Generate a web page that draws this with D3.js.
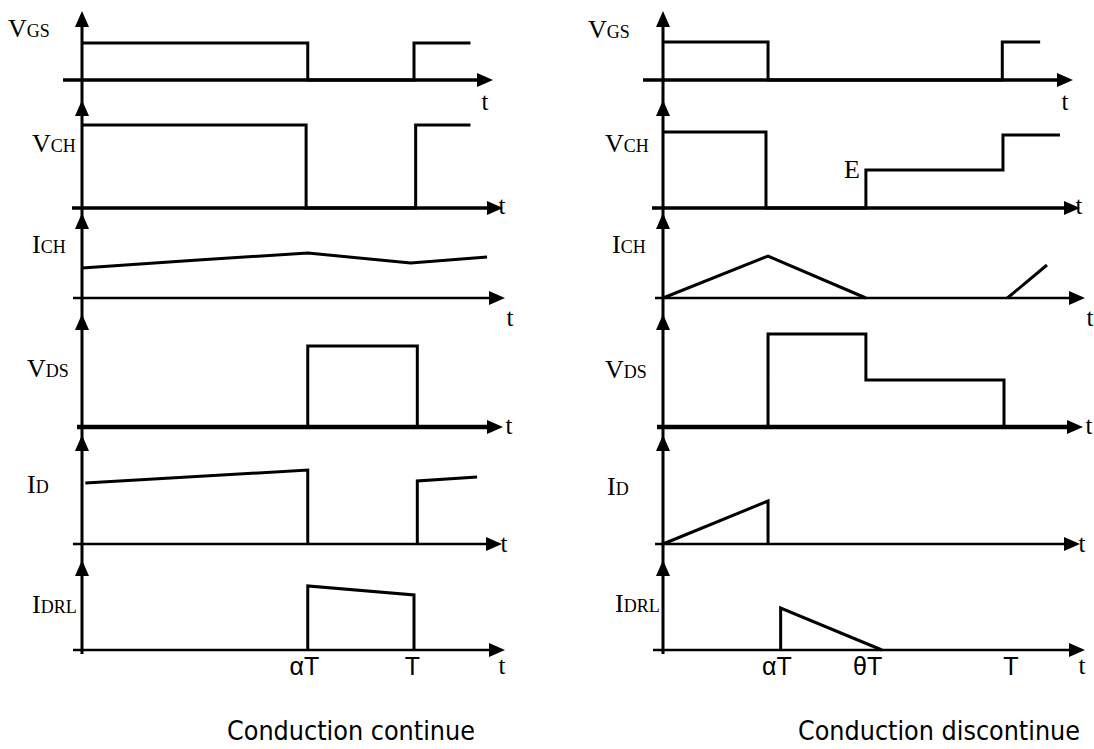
<!DOCTYPE html>
<html lang="fr">
<head>
<meta charset="UTF-8">
<title>Hacheur – conduction continue / discontinue</title>
<style>
  body { margin: 0; background: #fff; }
  svg { display: block; }
  .axis, .wave { fill: none; stroke: #000; stroke-linecap: butt; stroke-linejoin: miter; }
  .arrow { fill: #000; }
  .name { font-family: "Liberation Serif", "Times New Roman", serif; font-size: 26px; }
  .name .sub { font-size: 18px; }
  .tlab { font-family: "Liberation Serif", "Times New Roman", serif; font-size: 25px; text-anchor: middle; }
  .tick { font-family: "Liberation Sans", Arial, sans-serif; font-size: 25px; text-anchor: middle; }
  .title { font-family: "Liberation Sans Narrow", "DejaVu Sans Condensed", "Liberation Sans", sans-serif; font-size: 27px; font-stretch: condensed; }
</style>
<script src="https://d3js.org/d3.v7.min.js"></script>
</head>
<body>
<svg id="chart" width="1094" height="749"></svg>
<script>
  // -----------------------------
  // Data (t in periods T, level in row units)
  // -----------------------------
  const signalNames = [["V", "GS"], ["V", "CH"], ["I", "CH"], ["V", "DS"], ["I", "D"], ["I", "DRL"]];

  // conduction continue
  const contVGS  = [[0, .37], [.68, .37], [.68, 0], [1, 0], [1, .37], [1.17, .37]];
  const contVCH  = [[0, .83], [.675, .83], [.675, 0], [1.005, 0], [1.005, .83], [1.17, .83]];
  const contICH  = [[0, .30], [.35, .38], [.68, .45], [.99, .35], [1.22, .41]];
  const contVDS  = [[.68, 0], [.68, .81], [1.01, .81], [1.01, 0]];
  const contID1  = [[.01, .61], [.68, .74], [.68, 0]];
  const contID2  = [[1.01, 0], [1.01, .63], [1.19, .67]];
  const contIDRL = [[.68, 0], [.68, .64], [1, .55], [1, 0]];

  // conduction discontinue
  const discVGS  = [[0, .38], [.308, .38], [.308, 0], [.995, 0], [.995, .38], [1.106, .38]];
  const discVCH  = [[0, .76], [.302, .76], [.302, 0], [.595, 0], [.595, .38], [.997, .38], [.997, .73], [1.164, .73]];
  const discICH1 = [[0, 0], [.308, .42], [.595, 0]];
  const discICH2 = [[1.01, 0], [1.126, .33]];
  const discVDS  = [[.308, 0], [.308, .93], [.595, .93], [.595, .47], [1, .47], [1, 0]];
  const discID   = [[0, 0], [.308, .43], [.308, 0]];
  const discIDRL = [[.345, 0], [.345, .42], [.642, 0]];

  // tick labels under the last axis
  const contTicks = [{ label: "αT", t: .67 }, { label: "T", t: .995 }];
  const discTicks = [{ label: "αT", t: .334 }, { label: "θT", t: .60 }, { label: "T", t: 1.02 }];

  const titles = ["Conduction continue", "Conduction discontinue"];

  // -----------------------------
  // Layout
  // -----------------------------
  const rowBase  = [80, 208, 298, 427, 544, 650];
  const rowTip   = [11, 100, 213, 314, 435, 560];
  const rowAxisW = [3.5, 3.5, 2.5, 4.5, 2.5, 2.5];
  const tLabDx   = [-8, -1, 5, 6, 2, -3];
  const tLabY    = [110, 214, 326, 434, 552, 674];
  const rowUnit  = 100;

  const panels = [
    {
      x0: 82, xT: 414,
      signals: [[contVGS], [contVCH], [contICH], [contVDS], [contID1, contID2], [contIDRL]],
      ticks: contTicks,
      axisStart: [-19, -10, -9, -5, -9, -9],
      axisTip: [411, 421, 423, 421, 420, 423],
      nameX: [-74, -50, -50, -55, -55, -50],
      nameY: [37, 152, 253, 377, 493, 613],
      titleX: 227, titleW: 248
    },
    {
      x0: 663, xT: 1004,
      signals: [[discVGS], [discVCH], [discICH1, discICH2], [discVDS], [discID], [discIDRL]],
      ticks: discTicks,
      axisStart: [-20, -11, -8, -6, -8, -10],
      axisTip: [410, 417, 422, 420, 417, 422],
      nameX: [-75, -58, -51, -58, -56, -48],
      nameY: [38, 152, 253, 378, 495, 612],
      titleX: 798, titleW: 282,
      note: { label: "E", t: .595, v: .38, dx: -6, dy: 8 }
    }
  ];

  const svg = d3.select("#chart");

  panels.forEach(p => {
    const x = d3.scaleLinear().domain([0, 1]).range([p.x0, p.xT]);
    const g = svg.append("g");

    // vertical axis (shared by all rows)
    g.append("line").attr("class", "axis")
      .attr("x1", p.x0).attr("x2", p.x0)
      .attr("y1", rowTip[0] + 10).attr("y2", rowBase[5] + 4)
      .attr("stroke-width", 3);

    rowBase.forEach((base, i) => {
      const y = d3.scaleLinear().domain([0, 1]).range([base, base - rowUnit]);
      const tip = p.x0 + p.axisTip[i];

      // horizontal time axis with arrow
      g.append("line").attr("class", "axis")
        .attr("x1", p.x0 + p.axisStart[i]).attr("x2", tip - 10)
        .attr("y1", base).attr("y2", base)
        .attr("stroke-width", rowAxisW[i]);
      g.append("path").attr("class", "arrow")
        .attr("d", `M${tip},${base} L${tip - 16},${base - 7} L${tip - 16},${base + 7} Z`);

      // vertical arrow head
      g.append("path").attr("class", "arrow")
        .attr("d", `M${p.x0},${rowTip[i]} L${p.x0 - 7},${rowTip[i] + 16} L${p.x0 + 7},${rowTip[i] + 16} Z`);

      g.append("text").attr("class", "tlab")
        .attr("x", tip + tLabDx[i]).attr("y", tLabY[i]).text("t");

      // signal name
      const name = g.append("text").attr("class", "name")
        .attr("x", p.x0 + p.nameX[i]).attr("y", p.nameY[i]);
      name.append("tspan").text(signalNames[i][0]);
      name.append("tspan").attr("class", "sub").text(signalNames[i][1]);

      // waveform
      const line = d3.line().x(d => x(d[0])).y(d => y(d[1]));
      p.signals[i].forEach(seg => {
        g.append("path").attr("class", "wave")
          .attr("d", line(seg))
          .attr("stroke-width", 3);
      });

      if (p.note && i === 1) {
        g.append("text").attr("class", "name")
          .attr("text-anchor", "end")
          .attr("x", x(p.note.t) + p.note.dx)
          .attr("y", y(p.note.v) + p.note.dy)
          .text(p.note.label);
      }
    });

    // tick labels
    g.selectAll("text.tick").data(p.ticks).join("text")
      .attr("class", "tick")
      .attr("x", d => x(d.t))
      .attr("y", 675)
      .text(d => d.label);
  });

  svg.selectAll("text.title").data(titles).join("text")
    .attr("class", "title")
    .attr("x", (d, i) => panels[i].titleX)
    .attr("y", 740)
    .attr("textLength", (d, i) => panels[i].titleW)
    .attr("lengthAdjust", "spacingAndGlyphs")
    .text(d => d);
</script>
</body>
</html>
